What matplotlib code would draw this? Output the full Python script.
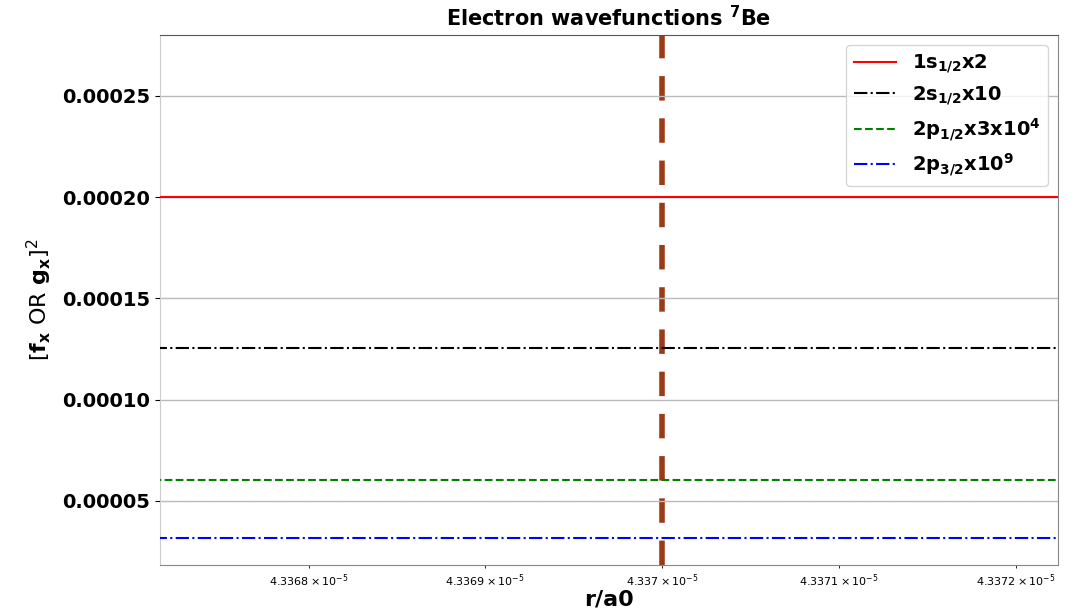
import numpy as N
from matplotlib import pyplot as P

# values
r = N.array([4.33660e-5, 4.33680e-5, 4.33700e-5, 4.33720e-5, 4.33740e-5])
f1s12 = N.full(5, 0.000200)     # 1s1/2 x2
f2s12 = N.full(5, 0.0001253)    # 2s1/2 x10
f2p12 = N.full(5, 0.0000604)    # 2p1/2 x3e4
f2p32 = N.full(5, 0.0000317)    # 2p3/2 x1e9
r_mark = 4.337e-5
labels = [r'$\mathbf{1s_{1/2}x2}$', r'$\mathbf{2s_{1/2}x10}$',
          r'$\mathbf{2p_{1/2}x3x10^4}$', r'$\mathbf{2p_{3/2}x10^9}$']
yticks = [0.00005, 0.00010, 0.00015, 0.00020, 0.00025]

fig = P.figure(figsize=(10.76, 6.11), dpi=100)
ax = fig.add_axes([0.1487, 0.0753, 0.8346, 0.8674])

ax.axvline(r_mark, color='#9b3a17', lw=4, dashes=(4.4, 3.2), zorder=1)
ax.plot(r, f1s12, color='red', lw=1.5, ls='-', label=labels[0], zorder=3)
ax.plot(r, f2s12, color='k', lw=1.5, ls='-.', label=labels[1], zorder=3)
ax.plot(r, f2p12, color='green', lw=1.5, ls='--', label=labels[2], zorder=3)
ax.plot(r, f2p32, color='blue', lw=1.5, ls='-.', label=labels[3], zorder=3)

ax.set_xscale('log')
ax.set_xlim(4.336716e-5, 4.337224e-5)
ax.set_ylim(0.0000184, 0.000280)
ax.set_yticks(yticks)
ax.set_yticklabels(['%.5f' % v for v in yticks], fontsize=14, fontweight='bold')
ax.tick_params(axis='x', which='both', labelsize=8)
ax.yaxis.grid(True, color='#bbbbbb', lw=1)

ax.spines['left'].set_color('#cccccc')
ax.spines['top'].set_color('#555555')
ax.spines['right'].set_color('#888888')
ax.spines['bottom'].set_color('#888888')

ax.set_title(r'Electron wavefunctions $^{\mathbf{7}}$Be', fontsize=15,
             fontweight='bold', pad=6)
ax.set_xlabel('r/a0', fontsize=16, fontweight='bold', labelpad=0)
ax.set_ylabel(r'$[\mathbf{f_x}$ OR $\mathbf{g_x}]^2$', fontsize=16,
              labelpad=6)

ax.legend(loc='upper right', fontsize=14, handlelength=2.2,
          labelspacing=0.45, borderaxespad=0.5)

fig.savefig('out.png', dpi=100)
